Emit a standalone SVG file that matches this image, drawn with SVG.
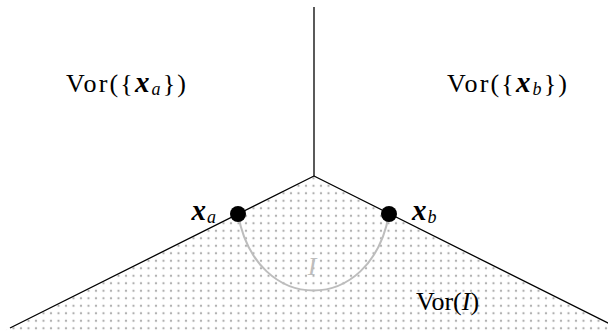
<svg xmlns="http://www.w3.org/2000/svg" width="608" height="331" viewBox="0 0 608 331">
<style>
.t{font-family:"Liberation Serif","Times New Roman",serif;font-size:26px;fill:#000}
.bx{font-weight:bold;font-style:italic;font-size:29px}
.sub{font-style:italic;font-size:18px}
.edge{stroke:#000;stroke-width:1.3;fill:none}
</style>
<defs>
<pattern id="dots" patternUnits="userSpaceOnUse" width="7.5" height="7.5" x="309.75" y="182">
<circle cx="3.75" cy="3.75" r="1.15" fill="#b0b0b0"/>
</pattern>
</defs>
<g id="region-I">
<polygon points="314,176 626,332 2,332" fill="url(#dots)"/>
</g>
<g id="curve-I">
<path d="M238,214 C256,316 371,316 389,214" fill="none" stroke="#bdbdbd" stroke-width="2"/>
<text class="t" x="312" y="275" style="fill:#bdbdbd;font-style:italic" text-anchor="middle">I</text>
</g>
<g id="connectors">
<line class="edge" x1="314" y1="7" x2="314" y2="176"/>
<line class="edge" x1="314" y1="176" x2="10" y2="328"/>
<line class="edge" x1="314" y1="176" x2="618" y2="328"/>
</g>
<g id="node-xa">
<circle cx="238" cy="214" r="8" fill="#000"/>
<text class="t" x="216" y="220" text-anchor="end"><tspan class="bx">x</tspan><tspan class="sub" dx="1" dy="3">a</tspan></text>
</g>
<g id="node-xb">
<circle cx="389" cy="214" r="8" fill="#000"/>
<text class="t" x="412" y="220"><tspan class="bx">x</tspan><tspan class="sub" dx="1" dy="3">b</tspan></text>
</g>
<g id="label-vor-a">
<text class="t" x="66" y="92" textLength="120" lengthAdjust="spacing">Vor({<tspan class="bx">x</tspan><tspan class="sub" dy="3">a</tspan><tspan dy="-3">})</tspan></text>
</g>
<g id="label-vor-b">
<text class="t" x="447" y="92" textLength="120" lengthAdjust="spacing">Vor({<tspan class="bx">x</tspan><tspan class="sub" dy="3">b</tspan><tspan dy="-3">})</tspan></text>
</g>
<g id="label-vor-I">
<text class="t" x="416" y="310">Vor(<tspan style="font-style:italic">I</tspan>)</text>
</g>
</svg>
